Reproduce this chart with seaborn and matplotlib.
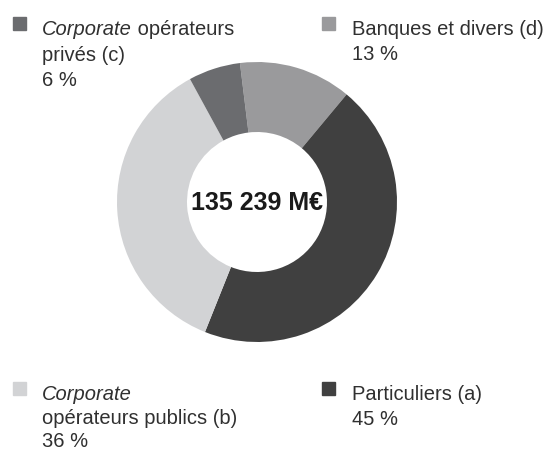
import matplotlib.pyplot as plt
import seaborn as sns
from matplotlib.patches import Rectangle

# data
labels = ["Banques et divers (d)", "Particuliers (a)",
          "Corporate opérateurs publics (b)", "Corporate opérateurs privés (c)"]
shares = [13, 45, 36, 6]
colors = ["#9a9a9c", "#404040", "#d2d3d5", "#6b6c6f"]
total_label = "135 239 M€"

W, H = 550, 452

sns.set_theme(style="white")
plt.rcParams['font.family'] = ['Liberation Sans', 'DejaVu Sans']

fig = plt.figure(figsize=(W / 100, H / 100), dpi=100)


def fx(x):
    return x / W


def fy(y):
    return 1 - y / H


# donut: centre (257, 203) px, radius 140 px
cx, cy, r = 257, 203, 140
ax = fig.add_axes([fx(cx - r), fy(cy + r), 2 * r / W, 2 * r / H])
ax.pie(shares, colors=colors, startangle=97, counterclock=False,
       wedgeprops=dict(width=0.5, linewidth=0))
ax.set_xlim(-1, 1)
ax.set_ylim(-1, 1)
ax.axis("off")
ax.text(0, 0, total_label, ha="center", va="center", fontsize=18,
        fontweight="bold", color="#1a1a1a")

TXT = "#303030"
FS = 14.5
LS = 1.38


def square(x, y, c):
    fig.patches.append(Rectangle((fx(x), fy(y + 13)), 13 / W, 13 / H,
                                 transform=fig.transFigure, color=c))


# privés (top left)
square(13, 18, colors[3])
t = fig.text(fx(42), fy(20), "Corporate", style="italic", fontsize=FS,
             color=TXT, va="top")
fig.add_artist(plt.Annotation(" opérateurs", xy=(1, 0), xycoords=t,
                              va="bottom", fontsize=FS, color=TXT))
fig.text(fx(42), fy(46), f"privés (c)\n{shares[3]} %", fontsize=FS,
         color=TXT, va="top", linespacing=LS)

# banques (top right)
square(322, 18, colors[0])
fig.text(fx(352), fy(20), f"Banques et divers (d)\n{shares[0]} %",
         fontsize=FS, color=TXT, va="top", linespacing=LS)

# publics (bottom left)
square(13, 383, colors[2])
fig.text(fx(42), fy(385), "Corporate", style="italic", fontsize=FS,
         color=TXT, va="top")
fig.text(fx(42), fy(409), f"opérateurs publics (b)\n{shares[2]} %",
         fontsize=FS, color=TXT, va="top", linespacing=1.28)

# particuliers (bottom right)
square(322, 383, colors[1])
fig.text(fx(352), fy(385), f"Particuliers (a)\n{shares[1]} %",
         fontsize=FS, color=TXT, va="top", linespacing=LS)

fig.savefig("out.png", dpi=100)
